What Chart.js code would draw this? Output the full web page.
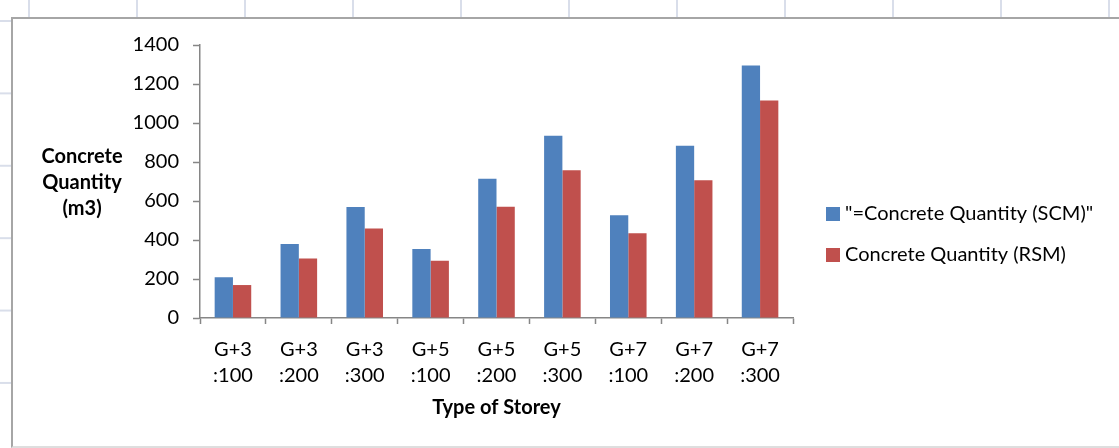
<!DOCTYPE html>
<html>
<head>
<meta charset="utf-8">
<script src="https://cdn.jsdelivr.net/npm/chart.js@4.4.0/dist/chart.umd.min.js"></script>
<style>
  html, body {
    margin: 0;
    padding: 0;
    width: 1119px;
    height: 448px;
    overflow: hidden;
    background-color: #fff;
    /* sheet gridlines behind the chart */
    background-image:
      linear-gradient(to right, #d9deea 2px, transparent 2px),
      linear-gradient(to bottom, #d9deea 2px, transparent 2px);
    background-size: 108px 100%, 100% 72.4px;
    background-position: 28px 0, 0 20px;
  }
  #box {
    position: absolute;
    left: 11px;
    top: 17px;
    width: 1110px;
    height: 427px;
    background: #fff;
    border-top: 2px solid #a6a6a6;
    border-left: 2px solid #a6a6a6;
    border-bottom: 2px solid #dedede;
  }
  #chart {
    position: absolute;
    left: 0;
    top: 0;
  }
</style>
</head>
<body>
<div id="box">
  <canvas id="chart" width="1106" height="427"></canvas>
</div>
<script>
const categories = ['G+3 :100', 'G+3 :200', 'G+3 :300', 'G+5 :100', 'G+5 :200', 'G+5 :300', 'G+7 :100', 'G+7 :200', 'G+7 :300'];
const scmValues = [209, 380, 569, 354, 714, 935, 527, 883, 1295];
const rsmValues = [169, 305, 459, 294, 571, 758, 434, 707, 1115];
const seriesNames = ['"=Concrete Quantity (SCM)"', 'Concrete Quantity (RSM)'];
const yTicks = [0, 200, 400, 600, 800, 1000, 1200, 1400];
const yTitle = ['Concrete', 'Quantity', '(m3)'];
const xTitle = 'Type of Storey';

const FONT = 'Lato, "Open Sans", sans-serif';
const axisGray = '#868686';

// axis titles and the legend are laid out by hand, Excel style
const extras = {
  id: 'extras',
  afterDraw(chart) {
    const ctx = chart.ctx;
    const area = chart.chartArea;
    ctx.save();
    ctx.fillStyle = '#000';
    ctx.textBaseline = 'middle';

    ctx.font = 'bold 20px ' + FONT;
    ctx.textAlign = 'center';
    const midY = (area.top + area.bottom) / 2 + 1;
    yTitle.forEach((line, i) => {
      ctx.fillText(line, 69, midY + (i - 1) * 26);
    });
    ctx.fillText(xTitle, (area.left + area.right) / 2, 389);

    ctx.font = '20px ' + FONT;
    ctx.textAlign = 'left';
    chart.data.datasets.forEach((ds, i) => {
      const bx = area.right + 33;
      const by = 188 + i * 41;
      ctx.fillStyle = ds.backgroundColor;
      ctx.fillRect(bx, by, 14, 14);
      ctx.fillStyle = '#000';
      ctx.fillText(ds.label, bx + 19, by + 7);
    });
    ctx.restore();
  }
};

new Chart(document.getElementById('chart'), {
  type: 'bar',
  data: {
    labels: categories,
    datasets: [
      { label: seriesNames[0], data: scmValues, backgroundColor: '#4f81bd' },
      { label: seriesNames[1], data: rsmValues, backgroundColor: '#c0504d' }
    ]
  },
  options: {
    responsive: false,
    animation: false,
    layout: { padding: { top: 22, right: 326, bottom: 0, left: 0 } },
    datasets: {
      bar: { categoryPercentage: 0.555, barPercentage: 1 }
    },
    plugins: {
      legend: { display: false },
      tooltip: { enabled: false }
    },
    scales: {
      x: {
        afterFit(scale) { scale.height = 128; },
        grid: {
          offset: true,
          drawOnChartArea: false,
          tickLength: 6,
          tickColor: axisGray,
          tickWidth: 1.5
        },
        border: { color: axisGray, width: 1.5 },
        ticks: {
          padding: 13,
          color: '#000',
          font: { family: FONT, size: 20, lineHeight: 1.3 },
          maxRotation: 0,
          autoSkip: false,
          callback: function(value) {
            return this.getLabelForValue(value).split(' ');
          }
        }
      },
      y: {
        min: 0,
        max: 1400,
        afterFit(scale) { scale.width = 187; },
        afterBuildTicks(scale) {
          scale.ticks = yTicks.map(v => ({ value: v }));
        },
        grid: {
          drawOnChartArea: false,
          tickLength: 7,
          tickColor: axisGray,
          tickWidth: 1.5
        },
        border: { color: axisGray, width: 1.5 },
        ticks: {
          padding: 14,
          color: '#000',
          font: { family: FONT, size: 20 },
          callback: value => String(value)
        }
      }
    }
  },
  plugins: [extras]
});
</script>
</body>
</html>
